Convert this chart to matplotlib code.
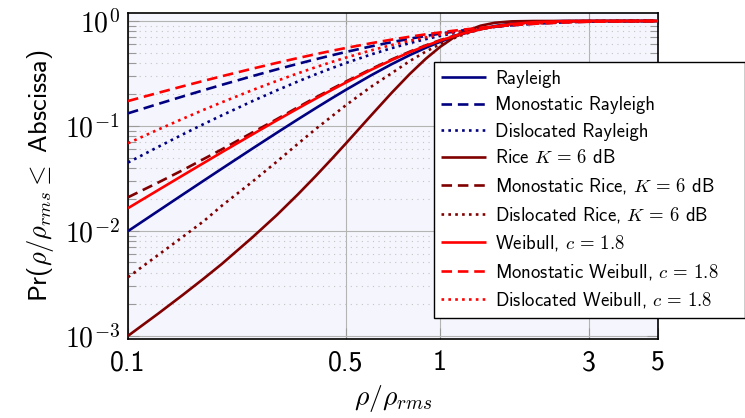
import os
import matplotlib
matplotlib.use("Agg")
import matplotlib.pyplot as plt
from matplotlib import font_manager, ticker

font_manager.fontManager.addfont(os.path.join(matplotlib.get_data_path(), "fonts/ttf/cmss10.ttf"))
plt.rcParams["font.family"] = ["cmss10", "DejaVu Sans"]
plt.rcParams["mathtext.fontset"] = "cm"
plt.rcParams["axes.unicode_minus"] = False

# ---------------- data ----------------
x_vals = [0.1, 0.125, 0.15, 0.175, 0.2, 0.25, 0.3, 0.35, 0.4, 0.45, 0.5, 0.6, 0.7,
          0.8, 0.9, 1.0, 1.1, 1.2, 1.35, 1.5, 1.7, 2.0, 2.5, 3.0, 4.0, 5.0]

rayleigh = [0.00995, 0.0155, 0.02225, 0.03016, 0.03921, 0.06059, 0.08607, 0.1153,
            0.14786, 0.18332, 0.2212, 0.30232, 0.38741, 0.47271, 0.55514, 0.63212,
            0.7018, 0.76307, 0.83837, 0.8946, 0.94443, 0.98168, 0.99807, 0.99988,
            1.0, 1.0]
mono_rayleigh = [0.13186, 0.16203, 0.1912, 0.21925, 0.24638, 0.29779, 0.34579,
                 0.39044, 0.43202, 0.47079, 0.50693, 0.5719, 0.6284, 0.67746,
                 0.71995, 0.75688, 0.78895, 0.81675, 0.8518, 0.88012, 0.90967,
                 0.94088, 0.97086, 0.98564, 0.99651, 0.99915]
disloc_rayleigh = [0.0448, 0.0632, 0.0832, 0.1044, 0.1262, 0.1718, 0.2183, 0.2648,
                   0.3106, 0.3552, 0.3981, 0.4785, 0.5509, 0.615, 0.6713, 0.7203,
                   0.7626, 0.7991, 0.8443, 0.8795, 0.9151, 0.9501, 0.9798, 0.9919,
                   0.99876, 0.99981]
rice = [0.001, 0.00163, 0.00246, 0.00352, 0.00485, 0.00863, 0.01416, 0.0222,
        0.0334, 0.04853, 0.06836, 0.1249, 0.20665, 0.31241, 0.4356, 0.5648,
        0.68688, 0.79095, 0.9017, 0.9616, 0.99163, 0.9991, 1.0, 1.0, 1.0, 1.0]
mono_rice = [0.0209, 0.0289, 0.038, 0.0485, 0.0599, 0.0862, 0.116, 0.1503,
             0.187, 0.225, 0.265, 0.347, 0.43, 0.51, 0.585, 0.655,
             0.716, 0.77, 0.836, 0.885, 0.93, 0.968, 0.99, 0.997, 1.0, 1.0]
disloc_rice = [0.00362, 0.0059, 0.0088, 0.0124, 0.0174, 0.0293, 0.0457, 0.0674,
               0.0937, 0.1234, 0.158, 0.235, 0.318, 0.415, 0.51, 0.6,
               0.68, 0.75, 0.835, 0.89, 0.935, 0.972, 0.993, 0.998, 1.0, 1.0]
weibull = [0.01646, 0.0245, 0.03385, 0.04442, 0.0562, 0.08272, 0.113, 0.14637,
           0.1823, 0.22018, 0.2596, 0.3412, 0.4236, 0.5037, 0.5794, 0.649,
           0.7114, 0.7664, 0.8343, 0.8861, 0.9342, 0.9739, 0.9957, 0.99948,
           1.0, 1.0]
mono_weibull = [0.1726, 0.2068, 0.2389, 0.26909, 0.2977, 0.3508, 0.399, 0.44297,
                0.483, 0.51969, 0.5534, 0.6133, 0.6643, 0.708, 0.7456, 0.7779,
                0.806, 0.8302, 0.8608, 0.8855, 0.9116, 0.9397, 0.9677, 0.9825,
                0.9947, 0.99835]
disloc_weibull = [0.0684, 0.0924, 0.1172, 0.1427, 0.168, 0.219, 0.2687, 0.3169,
                  0.363, 0.4067, 0.4481, 0.5237, 0.59, 0.6477, 0.6977, 0.7409,
                  0.778, 0.8102, 0.8497, 0.8812, 0.9131, 0.9458, 0.9752, 0.9886,
                  0.99757, 0.99947]

labels = [
    "Rayleigh",
    "Monostatic Rayleigh",
    "Dislocated Rayleigh",
    r"Rice $K\, =\, 6$ dB",
    r"Monostatic Rice, $K\, =\, 6$ dB",
    r"Dislocated Rice, $K\, =\, 6$ dB",
    r"Weibull, $c\, =\, 1.8$",
    r"Monostatic Weibull, $c\, =\, 1.8$",
    r"Dislocated Weibull, $c\, =\, 1.8$",
]
series = [rayleigh, mono_rayleigh, disloc_rayleigh,
          rice, mono_rice, disloc_rice,
          weibull, mono_weibull, disloc_weibull]

x_ticks = [0.1, 0.5, 1, 3, 5]
x_ticklabels = ["0.1", "0.5", "1", "3", "5"]
y_ticks = [1e-3, 1e-2, 1e-1, 1.0]
y_ticklabels = ["$10^{-3}$", "$10^{-2}$", "$10^{-1}$", "$10^{0}$"]

# ---------------- styles ----------------
navy = "#000080"
darkred = "#800000"
red = "#ff0000"
colors = [navy, navy, navy, darkred, darkred, darkred, red, red, red]
dash_solid = None
dash_dashed = (4.0, 2.2)
dash_dotted = (1.0, 1.6)
patterns = [dash_solid, dash_dashed, dash_dotted] * 3

W, H = 745, 418
fig = plt.figure(figsize=(W / 100, H / 100), dpi=100)
L, R, T, B = 128, 658, 13, 339
ax = fig.add_axes([L / W, 1 - B / H, (R - L) / W, (B - T) / H])
ax.set_facecolor("#f5f5fd")

ax.set_xscale("log")
ax.set_yscale("log")

for ys, c, d, lab in zip(series, colors, patterns, labels):
    line, = ax.plot(x_vals, ys, color=c, lw=1.9, label=lab,
                    solid_capstyle="butt", dash_capstyle="butt",
                    solid_joinstyle="round", zorder=3)
    if d is not None:
        line.set_dashes(d)

ax.set_xlim(0.1, 5)
ax.set_ylim(10 ** -3.03, 10 ** 0.076)

ax.xaxis.set_major_locator(ticker.FixedLocator(x_ticks))
ax.xaxis.set_major_formatter(ticker.FixedFormatter(x_ticklabels))
ax.xaxis.set_minor_locator(ticker.NullLocator())
ax.yaxis.set_major_locator(ticker.FixedLocator(y_ticks))
ax.yaxis.set_major_formatter(ticker.FixedFormatter(y_ticklabels))
ax.yaxis.set_minor_locator(ticker.LogLocator(base=10, subs=range(2, 10)))
ax.yaxis.set_minor_formatter(ticker.NullFormatter())

ax.grid(True, which="major", axis="both", color="#b4b4b4", lw=0.8, zorder=1)
ax.grid(True, which="minor", axis="y", color="#c4c4c4", lw=0.8,
        linestyle=(0, (1, 4)), zorder=1)
ax.set_axisbelow(True)

ax.tick_params(axis="both", which="both", direction="in", color="#999999",
               top=True, right=True)
ax.tick_params(axis="y", which="major", length=8, width=0.8, labelsize=20, pad=6)
ax.tick_params(axis="y", which="minor", length=6, width=0.8)
ax.tick_params(axis="x", which="major", length=8, width=0.8, labelsize=20, pad=8)

for s in ax.spines.values():
    s.set_linewidth(1.2)
    s.set_color("black")

ax.set_xlabel(r"$\rho/\rho_{rms}$", fontsize=20, labelpad=6)
ax.set_ylabel(r"Pr($\rho/\rho_{rms} \leq$ Abscissa)", fontsize=19, labelpad=6)

leg = fig.legend(loc="upper left",
                 bbox_to_anchor=(434 / W, 1 - 322 / H, 311 / W, 260 / H),
                 bbox_transform=fig.transFigure, mode="expand",
                 fontsize=13.5, frameon=True,
                 fancybox=False, framealpha=1, edgecolor="black",
                 handlelength=2.4, handletextpad=0.45, labelspacing=0.46,
                 borderpad=0.4, borderaxespad=0)
leg.get_frame().set_linewidth(1.0)

fig.savefig("out.png", dpi=100)
